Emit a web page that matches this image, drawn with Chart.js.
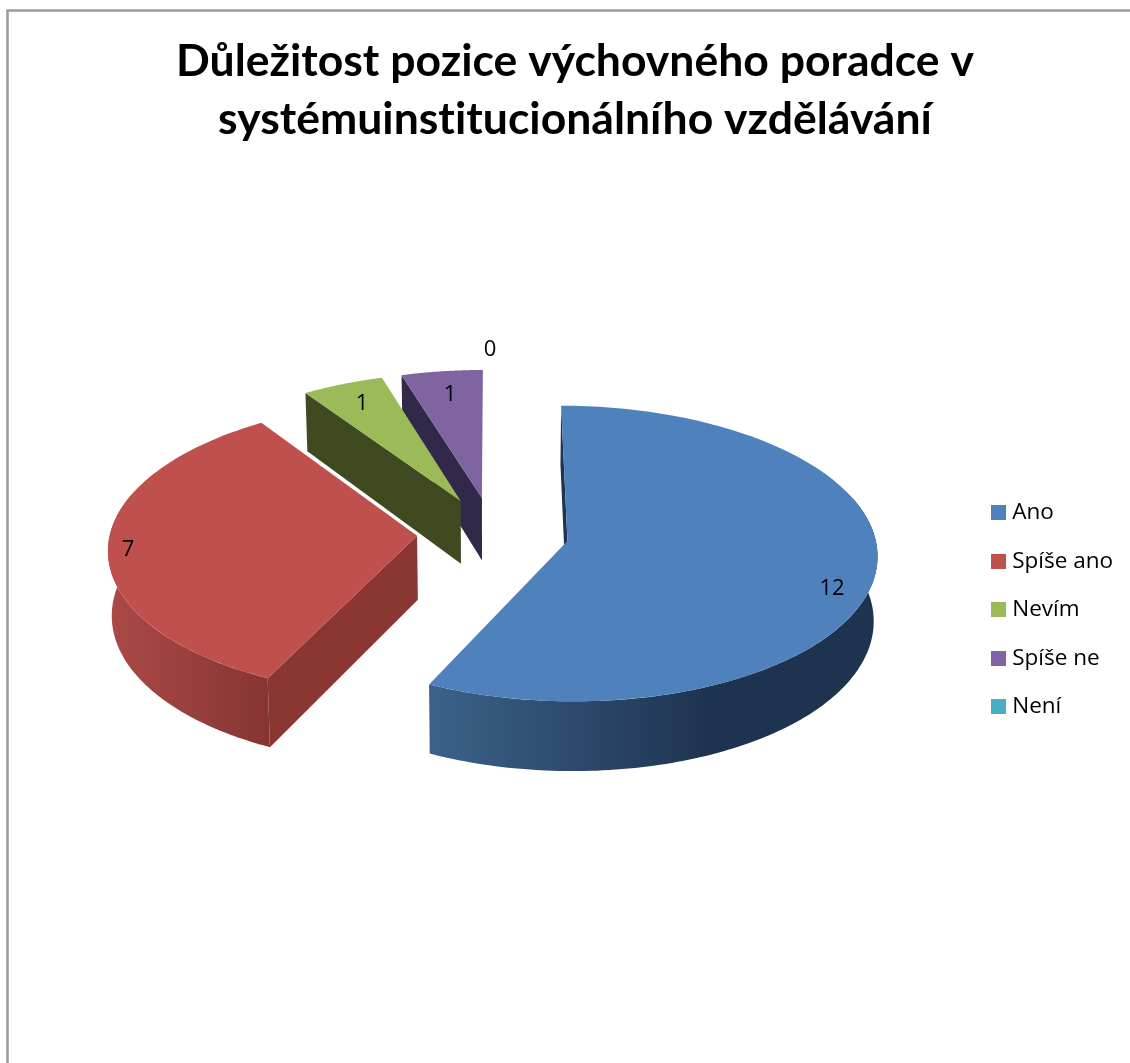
<!DOCTYPE html>
<html>
<head>
<meta charset="utf-8">
<style>
html, body { margin: 0; padding: 0; background: #fff; overflow: hidden; }
#wrap { position: absolute; left: 0; top: 0; width: 1130px; height: 1063px; }
</style>
<script src="https://cdn.jsdelivr.net/npm/chart.js@4/dist/chart.umd.min.js"></script>
</head>
<body>
<div id="wrap"><canvas id="pie"></canvas></div>
<script>
var titleLines = ['Důležitost pozice výchovného poradce v', 'systémuinstitucionálního vzdělávání'];
var categories = ['Ano', 'Spíše ano', 'Nevím', 'Spíše ne', 'Není'];
var answers = [12, 7, 1, 1, 0];

var topColors = ['#4f81bd', '#c0504d', '#9bbb59', '#8064a2', '#4bacc6'];
var wallColors = ['#1e3552', '#8a3633', '#3f4a20', '#32284a', '#1f5566'];
// left and right end of the shading on the curved side
var rimColors = [['#3b6189', '#1e3350'], ['#ab4a47', '#863532'], ['#3f4a20', '#3f4a20'], ['#32284a', '#32284a'], ['#1f5566', '#1f5566']];
// how far across the side the shading runs before it goes flat
var rimFade = [0.62, 1, 1, 1, 1];
// where the value labels sit on the page
var valueLabelX = [832, 128, 362, 450, 490];
var valueLabelY = [589, 550, 404, 395, 350];

// flat pie to screen: tilt squashes it, persp makes the near side bigger
var disc = { cx: 493, cy: 533, r: 307, tilt: 0.477, persp: 0.085, depth: 64, shrink: 0.99 };

function project(u, v, down) {
    var s = 1 + disc.persp * v / disc.r;
    return {
        x: disc.cx + u * s * (down ? disc.shrink : 1),
        y: disc.cy + v * disc.tilt * s + (down ? disc.depth * s : 0)
    };
}

function tracePoints(ctx, points) {
    ctx.beginPath();
    points.forEach(function (p, i) {
        if (i === 0) ctx.moveTo(p.x, p.y);
        else ctx.lineTo(p.x, p.y);
    });
    ctx.closePath();
}

function drawSlice(ctx, arc, i) {
    var start = arc.startAngle, end = arc.endAngle;
    if (end - start < 0.001) return;
    var mid = (start + end) / 2;
    var off = arc.options.offset;
    var ox = Math.cos(mid) * off, oy = Math.sin(mid) * off;
    var rimPoint = function (a, down) {
        return project(ox + Math.cos(a) * disc.r, oy + Math.sin(a) * disc.r, down);
    };

    // radial wall on the leading edge
    tracePoints(ctx, [project(ox, oy, false), rimPoint(start, false), rimPoint(start, true), project(ox, oy, true)]);
    ctx.fillStyle = wallColors[i];
    ctx.fill();

    // curved side, front half only; one quad per step so the silhouette
    // runs straight down from the widest point of the top face
    var from = Math.max(start, -0.3), to = Math.min(end, Math.PI + 0.3);
    if (to > from) {
        var steps = 120, left = Infinity, right = -Infinity;
        ctx.beginPath();
        for (var n = 0; n < steps; n++) {
            var a0 = from + (to - from) * n / steps;
            var a1 = from + (to - from) * (n + 1) / steps;
            var p0 = rimPoint(a0, false), p1 = rimPoint(a1, false);
            var q0 = rimPoint(a0, true), q1 = rimPoint(a1, true);
            ctx.moveTo(p0.x, p0.y);
            ctx.lineTo(p1.x, p1.y);
            ctx.lineTo(q1.x, q1.y);
            ctx.lineTo(q0.x, q0.y);
            ctx.closePath();
            left = Math.min(left, p0.x, q0.x);
            right = Math.max(right, p0.x, q0.x);
        }
        var grad = ctx.createLinearGradient(left, 0, right, 0);
        grad.addColorStop(0, rimColors[i][0]);
        grad.addColorStop(rimFade[i], rimColors[i][1]);
        ctx.fillStyle = grad;
        ctx.fill();
    }

    // top face
    var face = [project(ox, oy, false)];
    for (var k = 0; k <= 80; k++) {
        face.push(rimPoint(start + (end - start) * k / 80, false));
    }
    tracePoints(ctx, face);
    ctx.fillStyle = arc.options.backgroundColor;
    ctx.fill();
}

// legend squares are canvases so the text can sit closer to them
function legendSwatch(color) {
    var box = document.createElement('canvas');
    box.width = 15;
    box.height = 15;
    var g = box.getContext('2d');
    g.fillStyle = color;
    g.fillRect(0, 0, 15, 15);
    return box;
}

var tiltedPie = {
    id: 'tiltedPie',
    beforeDraw: function (chart) {
        var ctx = chart.ctx;
        // keeps the ti pairs in the title as separate letters
        ctx.letterSpacing = '0.01px';
        ctx.textRendering = 'optimizeSpeed';
        ctx.save();
        ctx.strokeStyle = '#9c9c9c';
        ctx.lineWidth = 2.5;
        ctx.beginPath();
        ctx.moveTo(7.5, 1063);
        ctx.lineTo(7.5, 10.5);
        ctx.lineTo(1130, 10.5);
        ctx.stroke();
        ctx.restore();
    },
    // the arcs keep their angles and offsets, only the painting is replaced
    beforeDatasetDraw: function (chart, args) {
        var ctx = chart.ctx;
        var arcs = args.meta.data;
        ctx.save();
        for (var i = arcs.length - 1; i >= 0; i--) {
            drawSlice(ctx, arcs[i], i);
        }
        ctx.restore();
        return false;
    },
    afterDatasetsDraw: function (chart) {
        var ctx = chart.ctx;
        ctx.save();
        ctx.fillStyle = '#000';
        ctx.font = '22px "Open Sans"';
        ctx.textAlign = 'center';
        ctx.textBaseline = 'middle';
        answers.forEach(function (value, i) {
            ctx.fillText(String(value), valueLabelX[i], valueLabelY[i]);
        });
        ctx.restore();
    }
};

new Chart(document.getElementById('pie'), {
    type: 'pie',
    plugins: [tiltedPie],
    data: {
        labels: categories,
        datasets: [{
            data: answers,
            backgroundColor: topColors,
            borderWidth: 0,
            offset: 76
        }]
    },
    options: {
        responsive: true,
        maintainAspectRatio: false,
        animation: false,
        layout: { padding: { left: 27, right: 7, top: 33, bottom: 0 } },
        plugins: {
            tooltip: { enabled: false },
            title: {
                display: true,
                text: titleLines,
                color: '#000',
                font: { family: 'Lato', size: 44.5, weight: 'bold', lineHeight: 1.3 },
                padding: { top: 0, bottom: 8 }
            },
            legend: {
                position: 'right',
                fullSize: false,
                labels: {
                    color: '#000',
                    font: { family: 'Open Sans', size: 22.5 },
                    usePointStyle: true,
                    pointStyleWidth: 5,
                    boxHeight: 15,
                    padding: 26,
                    generateLabels: function (chart) {
                        var items = Chart.overrides.doughnut.plugins.legend.labels.generateLabels(chart);
                        items.forEach(function (item, i) {
                            item.pointStyle = legendSwatch(topColors[i]);
                        });
                        return items;
                    }
                }
            }
        }
    }
});
</script>
</body>
</html>
